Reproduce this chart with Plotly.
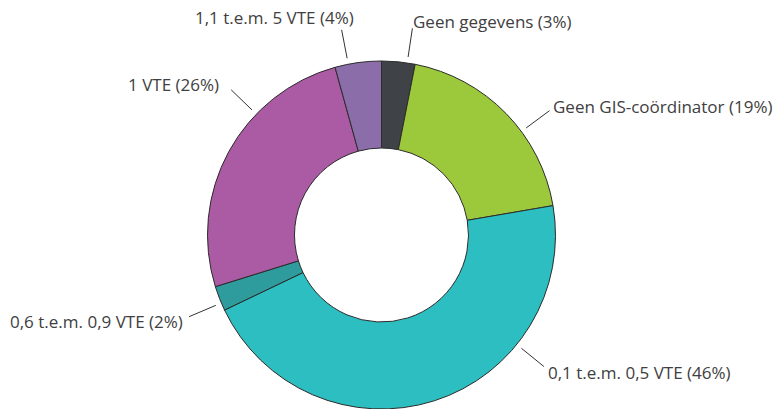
import math
import plotly.graph_objects as go

# ---- data ----
labels = ["Geen gegevens", "Geen GIS-coördinator", "0,1 t.e.m. 0,5 VTE",
          "0,6 t.e.m. 0,9 VTE", "1 VTE", "1,1 t.e.m. 5 VTE"]
values = [3.1, 19.2, 45.6, 2.3, 25.5, 4.3]
pct_text = ["3%", "19%", "46%", "2%", "26%", "4%"]

# ---- style / layout ----
colors = ["#3f4347", "#9cc93b", "#2cbec0", "#2e9b9c", "#ab5aa4", "#8b6ea9"]
W, H = 773, 409
CX, CY, R = 381.5, 235.0, 174.0      # pie centre/radius in pixels
HOLE = 0.5
# leader-line angle (deg clockwise from 12 o'clock) and text placement per label
label_angle = [8.5, 53.5, 129.0, 247.0, 314.0, 349.0]
label_anchor = ["left", "left", "left", "right", "right", "right"]
label_shift = [(-1, 7), (1, 4), (2, -6), (-4, -5), (-10, 5), (14, 12)]
R_IN, R_OUT = 180.0, 209.0
FONT = "Open Sans"
TXT = "#404040"

fig = go.Figure(go.Pie(
    labels=labels, values=values, sort=False, direction="clockwise",
    rotation=0, hole=HOLE, textinfo="none", hoverinfo="label+percent",
    marker=dict(colors=colors, line=dict(color="#2b2b2b", width=1)),
    domain=dict(x=[(CX - R) / W, (CX + R) / W],
                y=[(H - CY - R) / H, (H - CY + R) / H]),
    showlegend=False,
))

def px2paper(x, y):
    return x / W, 1 - y / H

shapes, annots = [], []
for lab, pct, ang, anc, (sx, sy) in zip(labels, pct_text, label_angle, label_anchor, label_shift):
    a = math.radians(ang)
    x0, y0 = CX + R_IN * math.sin(a), CY - R_IN * math.cos(a)
    x1, y1 = CX + R_OUT * math.sin(a), CY - R_OUT * math.cos(a)
    p0, p1 = px2paper(x0, y0), px2paper(x1, y1)
    shapes.append(dict(type="line", xref="paper", yref="paper",
                       x0=p0[0], y0=p0[1], x1=p1[0], y1=p1[1],
                       line=dict(color="#333333", width=1)))
    annots.append(dict(xref="paper", yref="paper", x=p1[0], y=p1[1],
                       text=f"{lab} ({pct})", showarrow=False,
                       xanchor=anc, yanchor="middle", xshift=sx, yshift=sy,
                       font=dict(family=FONT, size=17, color=TXT)))

fig.update_layout(width=W, height=H, margin=dict(l=0, r=0, t=0, b=0),
                  paper_bgcolor="white", plot_bgcolor="white",
                  shapes=shapes, annotations=annots)
fig.write_html("out.html", config={"displayModeBar": False},
               post_script="document.body.style.margin='0';document.body.style.overflow='hidden';")
